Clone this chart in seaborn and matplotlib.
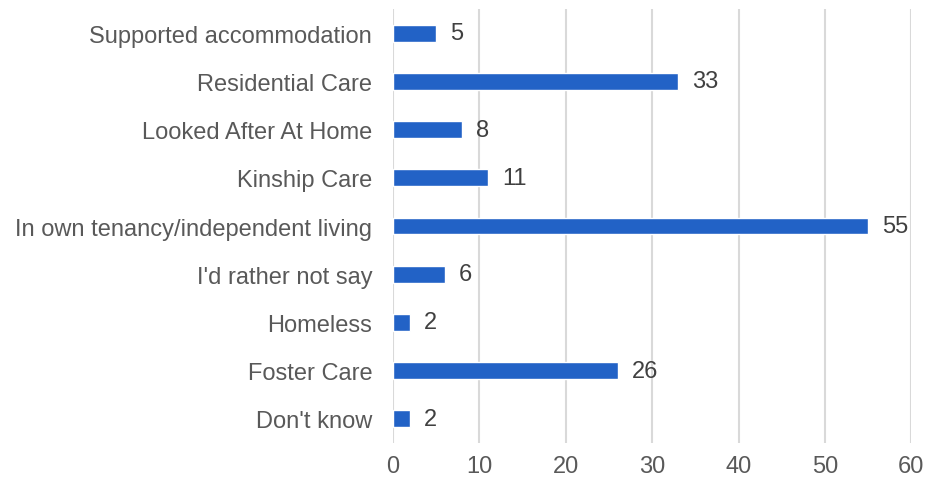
import matplotlib
matplotlib.use("Agg")
import matplotlib.pyplot as plt
import seaborn as sns
import pandas as pd

categories = ["Supported accommodation", "Residential Care", "Looked After At Home",
              "Kinship Care", "In own tenancy/independent living", "I'd rather not say",
              "Homeless", "Foster Care", "Don't know"]
values = [5, 33, 8, 11, 55, 6, 2, 26, 2]
xticks = [0, 10, 20, 30, 40, 50, 60]

sns.set_theme(style="white")
plt.rcParams['font.family'] = ['Liberation Sans', 'DejaVu Sans']

FS = 17
df = pd.DataFrame({"cat": categories, "val": values})
fig = plt.figure(figsize=(9.27, 4.81), dpi=100)
ax = fig.add_axes([0.424, 0.077, 0.559, 0.902])
sns.barplot(data=df, y="cat", x="val", order=categories, color="#2262C6",
            saturation=1, width=0.35, ax=ax, zorder=3)
ax.set_xlim(0, 60)
ax.set_xticks(xticks)
ax.set_ylim(len(categories) - 0.5, -0.5)
ax.xaxis.grid(True, color="#d9d9d9", linewidth=1.5, zorder=0)
ax.yaxis.grid(False)
for s in ax.spines.values():
    s.set_visible(False)
ax.set_xlabel("")
ax.set_ylabel("")
ax.tick_params(axis="y", length=0, pad=15, labelsize=FS, labelcolor="#595959")
ax.tick_params(axis="x", length=0, pad=9, labelsize=FS, labelcolor="#595959")
for i, v in enumerate(values):
    ax.text(v + 1.6, i, str(v), va="center", ha="left", fontsize=FS, color="#404040")
fig.savefig("out.png", dpi=100)
